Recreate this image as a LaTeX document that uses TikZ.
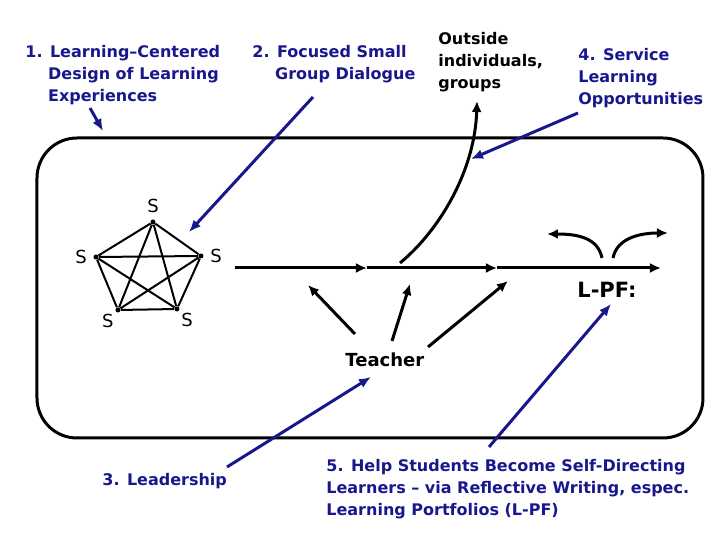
\documentclass[tikz,border=0pt]{standalone}
\usepackage{fontspec}
\setmainfont{DejaVu Sans}
\usetikzlibrary{arrows.meta}
\definecolor{navyblue}{RGB}{24,24,140}

\begin{document}
\begin{tikzpicture}[x=0.5pt, y=-0.5pt,
    item/.style={navyblue, font=\bfseries\fontsize{8}{11}\selectfont, align=left, anchor=north west, inner sep=0pt},
    note/.style={font=\bfseries\fontsize{8}{11}\selectfont, align=left, anchor=north west, inner sep=0pt},
    pointer/.style={navyblue, line width=1.5pt, -{Latex[length=6pt,width=5pt]}},
    flow/.style={line width=1.5pt, -{Latex[length=5.5pt,width=5pt]}},
    student/.style={circle, fill, inner sep=0pt, minimum size=2.5pt},
    slbl/.style={font=\fontsize{9}{11}\selectfont, inner sep=1pt},
    link/.style={line width=1pt}]
    \useasboundingbox (0,0) rectangle (720,540);

    % Classroom frame
    \draw[line width=1.5pt, rounded corners=20pt] (37,138) rectangle (703,438);

    % Labels round the frame
    \node[item] (design) at (25,45) {1. Learning--Centered\\\hphantom{1.\ }Design of Learning\\\hphantom{1.\ }Experiences};
    \node[item] (dialogue) at (252,45) {2. Focused Small\\\hphantom{2.\ }Group Dialogue};
    \node[note] (outside) at (438,32) {Outside\\individuals,\\groups};
    \node[item] (service) at (578,48) {4. Service\\Learning\\Opportunities};
    \node[item] (leader) at (102,473) {3. Leadership};
    \node[item] (selfdir) at (326,459) {5. Help Students Become Self-Directing\\Learners -- via Reflective Writing, espec.\\Learning Portfolios (L-PF)};

    % Students
    \node[student, label={[slbl, label distance=2pt]above:S}] (s1) at (153,222) {};
    \node[student, label={[slbl, label distance=2pt]right:S}] (s2) at (201,256) {};
    \node[student, label={[slbl, label distance=0pt]below right:S}] (s3) at (177,309) {};
    \node[student, label={[slbl, label distance=0pt]below left:S}] (s4) at (118,310) {};
    \node[student, label={[slbl, label distance=2pt]left:S}] (s5) at (96,257) {};
    \draw[link] (s1) -- (s2) (s1) -- (s3) (s1) -- (s4) (s1) -- (s5)
        (s2) -- (s3) (s2) -- (s4) (s2) -- (s5)
        (s3) -- (s4) (s3) -- (s5) (s4) -- (s5);

    % Teacher and portfolio
    \node[note, font=\bfseries\fontsize{9}{11}\selectfont] (teacher) at (345,352) {Teacher};
    \node[note, font=\bfseries\fontsize{10.5}{12}\selectfont] (lpf) at (577,282) {L-PF:};

    % Main line
    \coordinate (h0) at (235,268);
    \coordinate (h1) at (367,268);
    \coordinate (h2) at (497,268);
    \coordinate (h3) at (661,268);
    \draw[flow] (h0) -- (h1);
    \draw[flow] (h1) -- (h2);
    \draw[flow] (h2) -- (h3);

    % Teacher arrows
    \coordinate (t1) at (355,334);
    \coordinate (t2) at (392,341);
    \coordinate (t3) at (428,347);
    \coordinate (e1) at (308,285);
    \coordinate (e2) at (410,284);
    \coordinate (e3) at (508,281);
    \draw[flow] (t1) -- (e1);
    \draw[flow] (t2) -- (e2);
    \draw[flow] (t3) -- (e3);

    % Out to outside individuals
    \coordinate (c0) at (400,263);
    \coordinate (c1) at (477,101);
    \draw[flow] (c0) .. controls (440,230) and (475,170) .. (c1);

    % Branches above L-PF
    \coordinate (b0) at (602,258);
    \coordinate (b1) at (547,234);
    \coordinate (b2) at (613,258);
    \coordinate (b3) at (668,233);
    \draw[flow] (b0) .. controls (598,238) and (578,234) .. (b1);
    \draw[flow] (b2) .. controls (617,238) and (640,233) .. (b3);

    % Blue pointers
    \coordinate (p1) at (90,108);
    \coordinate (q1) at (103,131);
    \coordinate (p2) at (313,97);
    \coordinate (q2) at (189,232);
    \coordinate (p4) at (578,113);
    \coordinate (q4) at (471,159);
    \coordinate (p3) at (227,467);
    \coordinate (q3) at (371,377);
    \coordinate (p5) at (489,447);
    \coordinate (q5) at (611,304);
    \draw[pointer] (p1) -- (q1);
    \draw[pointer] (p2) -- (q2);
    \draw[pointer] (p4) -- (q4);
    \draw[pointer] (p3) -- (q3);
    \draw[pointer] (p5) -- (q5);
\end{tikzpicture}
\end{document}
